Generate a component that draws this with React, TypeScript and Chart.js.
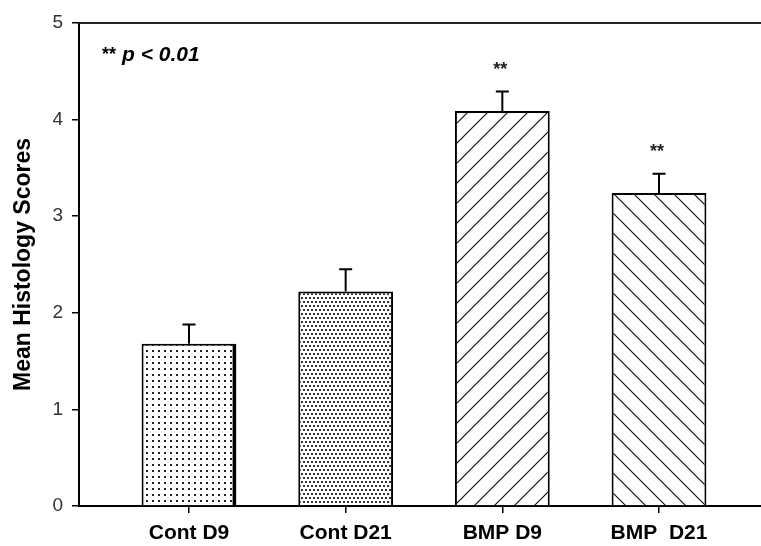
import React, { useEffect, useRef } from "react";
import { Chart, registerables } from "chart.js";

Chart.register(...registerables);

// ---- Data ----
const categories = ["Cont D9", "Cont D21", "BMP D9", "BMP  D21"];
const meanScores = [1.68, 2.22, 4.09, 3.24];
const errorValues = [0.2, 0.23, 0.2, 0.2];
const significance = ["", "", "**", "**"];
const yTickValues = [0, 1, 2, 3, 4, 5];
const yTitle = "Mean Histology Scores";
const noteStars = "**";
const noteText = "p < 0.01";

const FONT = "'Liberation Sans', Arial, Helvetica, sans-serif";

function makePattern(kind: string): CanvasPattern | string {
  const c = document.createElement("canvas");
  const ctx = c.getContext("2d");
  if (!ctx) return "#fff";
  if (kind === "sparse") {
    c.width = 6;
    c.height = 6;
    ctx.fillStyle = "#fff";
    ctx.fillRect(0, 0, 6, 6);
    ctx.fillStyle = "#222";
    ctx.fillRect(2, 2, 2, 2);
  } else if (kind === "dense") {
    c.width = 8;
    c.height = 8;
    ctx.fillStyle = "#fff";
    ctx.fillRect(0, 0, 8, 8);
    ctx.fillStyle = "#333";
    ctx.fillRect(1, 1, 2, 2);
    ctx.fillRect(5, 1, 2, 2);
    ctx.fillRect(3, 5, 2, 2);
    ctx.fillRect(7, 5, 1, 2);
    ctx.fillRect(0, 5, 1, 2);
  } else {
    const s = 20;
    c.width = s;
    c.height = s;
    ctx.fillStyle = "#fff";
    ctx.fillRect(0, 0, s, s);
    ctx.strokeStyle = "#111";
    ctx.lineWidth = 1.2;
    ctx.beginPath();
    if (kind === "fwd") {
      ctx.moveTo(-2, s + 2);
      ctx.lineTo(s + 2, -2);
      ctx.moveTo(-2, 2);
      ctx.lineTo(2, -2);
      ctx.moveTo(s - 2, s + 2);
      ctx.lineTo(s + 2, s - 2);
    } else {
      ctx.moveTo(-2, -2);
      ctx.lineTo(s + 2, s + 2);
      ctx.moveTo(s - 2, -2);
      ctx.lineTo(s + 2, 2);
      ctx.moveTo(-2, s - 2);
      ctx.lineTo(2, s + 2);
    }
    ctx.stroke();
  }
  const p = ctx.createPattern(c, "repeat");
  return p || "#fff";
}

const overlayPlugin = {
  id: "overlay",
  afterDatasetsDraw(chart: any) {
    const { ctx, chartArea, scales } = chart;
    const yScale = scales.y;
    const meta = chart.getDatasetMeta(0);
    ctx.save();
    // error bars
    ctx.strokeStyle = "#000";
    ctx.lineWidth = 2;
    meta.data.forEach((bar: any, i: number) => {
      const x = bar.x;
      const yTop = yScale.getPixelForValue(meanScores[i]);
      const yErr = yScale.getPixelForValue(meanScores[i] + errorValues[i]);
      ctx.beginPath();
      ctx.moveTo(x, yTop);
      ctx.lineTo(x, yErr);
      ctx.moveTo(x - 6.5, yErr);
      ctx.lineTo(x + 6.5, yErr);
      ctx.stroke();
      if (significance[i]) {
        ctx.fillStyle = "#222";
        ctx.font = `bold 18px ${FONT}`;
        ctx.textAlign = "center";
        ctx.textBaseline = "alphabetic";
        ctx.fillText(significance[i], x - 2, yErr - 16.5);
      }
    });
    // top frame line
    ctx.strokeStyle = "#222";
    ctx.lineWidth = 2;
    ctx.beginPath();
    ctx.moveTo(chartArea.left, chartArea.top);
    ctx.lineTo(chartArea.right, chartArea.top);
    ctx.stroke();
    // annotation
    ctx.fillStyle = "#000";
    ctx.textAlign = "left";
    ctx.textBaseline = "alphabetic";
    ctx.font = `bold 18px ${FONT}`;
    ctx.fillText(noteStars, chartArea.left + 23, chartArea.top + 37);
    ctx.font = `italic bold 21px ${FONT}`;
    ctx.fillText(noteText, chartArea.left + 43, chartArea.top + 38);
    ctx.restore();
  },
};

export default function App() {
  const ref = useRef<HTMLCanvasElement | null>(null);

  useEffect(() => {
    if (!ref.current) return;
    const backgrounds = [
      makePattern("sparse"),
      makePattern("dense"),
      makePattern("fwd"),
      makePattern("back"),
    ];
    const chart = new Chart(ref.current, {
      type: "bar",
      data: {
        datasets: [
          {
            data: categories.map((_, i) => ({ x: i, y: meanScores[i] })),
            backgroundColor: backgrounds as any,
            borderColor: "#000",
            borderWidth: ((c: any) =>
              c.dataIndex === 0
                ? { top: 2, left: 2, right: 4, bottom: 0 }
                : { top: 2, left: 2, right: 2, bottom: 0 }) as any,
            borderSkipped: "bottom",
            barPercentage: 0.605,
            categoryPercentage: 1,
          } as any,
        ],
      },
      options: {
        responsive: false,
        animation: false,
        devicePixelRatio: 1,
        layout: { padding: { top: 23, right: 0, left: 0, bottom: 0 } },
        plugins: {
          legend: { display: false },
          tooltip: { enabled: false },
        },
        scales: {
          x: {
            type: "linear",
            min: -0.702,
            max: 3.651,
            offset: false,
            afterBuildTicks: (s: any) => {
              s.ticks = categories.map((_, i) => ({ value: i }));
            },
            afterFit: (s: any) => {
              s.height = 40;
            },
            ticks: {
              callback: (v: any) => categories[v] ?? "",
              font: { family: FONT, size: 21, weight: "bold" },
              color: "#000",
              padding: 8,
              maxRotation: 0,
              autoSkip: false,
            },
            grid: {
              display: true,
              offset: false,
              drawOnChartArea: false,
              drawTicks: true,
              tickLength: 7,
              color: "#000",
              lineWidth: 1.5,
            },
            border: { display: true, color: "#000", width: 2 },
          },
          y: {
            type: "linear",
            min: 0,
            max: 5,
            afterBuildTicks: (s: any) => {
              s.ticks = yTickValues.map((v) => ({ value: v }));
            },
            afterFit: (s: any) => {
              s.width = 79;
            },
            ticks: {
              font: { family: FONT, size: 19 },
              color: "#333",
              padding: 9,
            },
            grid: {
              display: true,
              drawOnChartArea: false,
              drawTicks: true,
              tickLength: 7,
              color: "#000",
              lineWidth: 1.5,
            },
            border: { display: true, color: "#000", width: 2 },
            title: {
              display: true,
              text: yTitle,
              color: "#000",
              font: { family: FONT, size: 23, weight: "bold" },
              padding: { top: 10, bottom: 0 },
            },
          },
        },
      } as any,
      plugins: [overlayPlugin],
    });
    return () => chart.destroy();
  }, []);

  return (
    <div style={{ position: "fixed", left: 0, top: 0, width: 761, height: 546, background: "#fff" }}>
      <canvas ref={ref} width={761} height={546} style={{ display: "block" }} />
    </div>
  );
}
